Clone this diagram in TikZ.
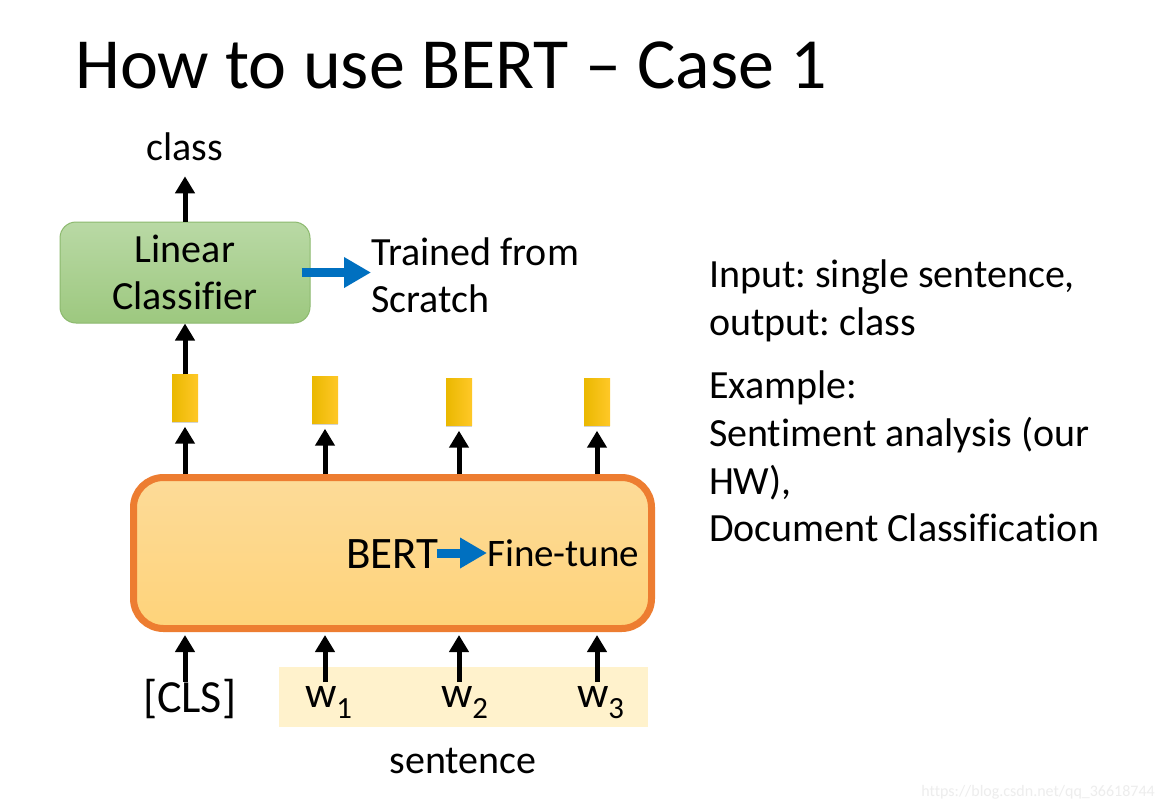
\documentclass[tikz,border=0pt]{standalone}
\usepackage{fontspec}
\setmainfont{Carlito}[Ligatures=NoCommon]
\usetikzlibrary{arrows.meta,shadows}
\definecolor{bluearrow}{RGB}{0,112,192}
\definecolor{bertborder}{RGB}{237,125,49}
\definecolor{senbg}{RGB}{255,242,204}
\definecolor{lcborder}{RGB}{140,185,110}
\tikzset{
  txt/.style={inner sep=0pt, outer sep=0pt, anchor=base west, font=\fontsize{40}{48}\selectfont},
  arr/.style={line width=5pt, -{Triangle[width=19pt,length=17pt]}},
  bluearr/.style={draw=bluearrow, line width=9.5pt, -{Triangle[width=29pt,length=27pt]}},
  vec/.style={minimum width=26pt, minimum height=47pt, inner sep=0pt,
    left color={rgb,255:red,234;green,184;blue,0}, right color={rgb,255:red,255;green,200;blue,40},
    drop shadow={shadow xshift=0pt, shadow yshift=-1.8pt, opacity=0.25, fill=black!70}},
  tok/.style={inner sep=0pt, outer sep=0pt, anchor=base west, text height=30pt, text depth=8pt,
    font=\fontsize{44}{48}\selectfont}
}
\begin{document}
\frenchspacing
\begin{tikzpicture}[x=1pt,y=-1pt]
\useasboundingbox[fill=white] (0,0) rectangle (1164,809);
% title
\node[inner sep=0pt, anchor=base west, font=\fontsize{72}{80}\selectfont] (title) at (75,88) {How to use BERT – Case 1};
% linear classifier
\node[draw=lcborder, line width=1pt, rounded corners=16pt, minimum width=250pt, minimum height=101pt,
  top color={rgb,255:red,185;green,217;blue,165}, bottom color={rgb,255:red,157;green,200;blue,127},
  align=center, font=\fontsize{40}{47}\selectfont, inner sep=0pt] (lc) at (185,272.5) {Linear\\Classifier};
\node[txt, anchor=base] (class) at (185,160) {class};
\draw[arr, shorten >=16pt] (lc.north) -- (lc.north |- class.south);
% trained from scratch
\node[txt] (tr1) at (371,265) {Trained from};
\node[txt] (tr2) at (371,312) {Scratch};
\draw[bluearr] ([xshift=-9pt]lc.east) -- (lc.east -| tr1.west);
% BERT box
\node[draw=bertborder, line width=7pt, rounded corners=30pt, minimum width=518pt, minimum height=151pt,
  top color={rgb,255:red,253;green,219;blue,152}, bottom color={rgb,255:red,254;green,211;blue,122}] (bert) at (392.5,553) {};
\node[inner sep=0pt, anchor=base west, font=\fontsize{45}{48}\selectfont] (bertlbl) at (346,568) {BERT};
\node[inner sep=0pt, anchor=base west, font=\fontsize{39}{48}\selectfont] (ft) at (487,566) {Fine-tune};
\draw[bluearr, line width=9pt] ([xshift=-2pt]bertlbl.east |- 0,553) coordinate (ba) -- (ba -| ft.west);
% vectors
\node[vec] (v1) at (185,398) {};
\node[vec] (v2) at (325,400) {};
\node[vec] (v3) at (459,402) {};
\node[vec] (v4) at (597,402) {};
\foreach \v in {v1,v2,v3,v4}{
  \draw[arr, shorten >=5pt] (\v.south |- bert.north) -- (\v.south);
}
\draw[arr] (v1.north) -- (v1.north |- lc.south);
% sentence
\node[fill=senbg, minimum width=369pt, minimum height=60pt, inner sep=0pt] (sen) at (463,696.5) {};
\node[tok, font=\fontsize{46}{48}\selectfont] (cls) at (143,712) {[CLS]};
\node[tok] (w1) at (305,707) {w\textsubscript{1}};
\node[tok] (w2) at (441,707) {w\textsubscript{2}};
\node[tok] (w3) at (577,707) {w\textsubscript{3}};
\node[txt, anchor=base] (sentence) at (463,773) {sentence};
\foreach \v in {v1,v2,v3,v4}{
  \draw[arr, shorten >=3pt] (\v |- cls.north) -- (\v |- bert.south);
}
% right text
\node[txt] (r1) at (709,287) {Input: single sentence,};
\node[txt] (r2) at (709,335) {output: class};
\node[txt] (r3) at (709,398) {Example:};
\node[txt] (r4) at (709,446) {Sentiment analysis (our};
\node[txt] (r5) at (709,494) {HW),};
\node[txt] (r6) at (709,541) {Document Classification};
% watermark
\node[inner sep=0pt, anchor=base east, text=black!7, font=\fontsize{16}{18}\selectfont] (wm) at (1155,796) {https://blog.csdn.net/qq\_36618744};
\end{tikzpicture}
\end{document}
